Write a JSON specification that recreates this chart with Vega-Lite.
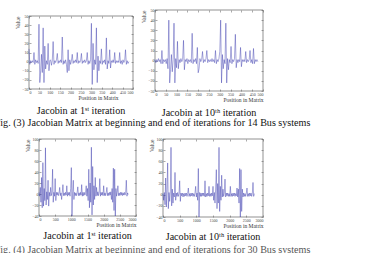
{
  "$schema": "https://vega.github.io/schema/vega-lite/v6.json",
  "background": "white",
  "autosize": {"type": "none"},
  "padding": {"left": 29, "top": 10, "right": 337, "bottom": 243},
  "datasets": {
    "s14": [
      {"p":0,"a":14,"b":1},{"p":4,"a":-3,"b":-2},{"p":8,"a":1,"b":1},{"p":12,"a":-1,"b":-1},{"p":16,"a":1,"b":2},{"p":20,"a":-1,"b":-1},{"p":24,"a":10,"b":1},{"p":28,"a":-3,"b":-3},{"p":32,"a":2,"b":10},{"p":36,"a":-1,"b":-3},
      {"p":40,"a":1,"b":1},{"p":44,"a":-2,"b":-1},{"p":48,"a":41,"b":1},{"p":52,"a":-23,"b":-3},{"p":56,"a":-10,"b":2},{"p":60,"a":8,"b":-8},{"p":64,"a":-12,"b":40},{"p":68,"a":37,"b":-22},{"p":72,"a":-23,"b":-9},{"p":76,"a":17,"b":6},
      {"p":80,"a":-8,"b":-11},{"p":84,"a":1,"b":1},{"p":88,"a":-3,"b":37},{"p":92,"a":20,"b":-22},{"p":96,"a":-10,"b":2},{"p":100,"a":1,"b":-7},{"p":104,"a":2,"b":19},{"p":108,"a":-4,"b":-8},{"p":112,"a":1,"b":1},{"p":116,"a":22,"b":-2},
      {"p":120,"a":-3,"b":2},{"p":124,"a":1,"b":-1},{"p":128,"a":-1,"b":1},{"p":132,"a":2,"b":20},{"p":136,"a":9,"b":-9},{"p":140,"a":-2,"b":1},{"p":144,"a":1,"b":-1},{"p":148,"a":-1,"b":2},{"p":152,"a":2,"b":-3},{"p":156,"a":-1,"b":1},
      {"p":160,"a":27,"b":-1},{"p":164,"a":-3,"b":1},{"p":168,"a":1,"b":-2},{"p":172,"a":-2,"b":27},{"p":176,"a":2,"b":-3},{"p":180,"a":-3,"b":1},{"p":184,"a":-12,"b":-1},{"p":188,"a":13,"b":2},{"p":192,"a":-10,"b":-3},{"p":196,"a":2,"b":13},
      {"p":200,"a":-3,"b":-12},{"p":204,"a":1,"b":-8},{"p":208,"a":8,"b":2},{"p":212,"a":-2,"b":-1},{"p":216,"a":1,"b":1},{"p":220,"a":-1,"b":9},{"p":224,"a":2,"b":-2},{"p":228,"a":-1,"b":1},{"p":232,"a":10,"b":-1},{"p":236,"a":-2,"b":2},
      {"p":240,"a":1,"b":10},{"p":244,"a":-1,"b":-2},{"p":248,"a":1,"b":1},{"p":252,"a":9,"b":-1},{"p":256,"a":-2,"b":1},{"p":260,"a":1,"b":-1},{"p":264,"a":-1,"b":2},{"p":268,"a":2,"b":-1},{"p":272,"a":-1,"b":1},{"p":276,"a":1,"b":-2},
      {"p":280,"a":10,"b":10},{"p":284,"a":-3,"b":-3},{"p":288,"a":1,"b":1},{"p":292,"a":-2,"b":-1},{"p":296,"a":2,"b":2},{"p":300,"a":42,"b":9},{"p":304,"a":-25,"b":40},{"p":308,"a":20,"b":-22},{"p":312,"a":-9,"b":6},{"p":316,"a":2,"b":-8},
      {"p":320,"a":-3,"b":1},{"p":324,"a":37,"b":-3},{"p":328,"a":-23,"b":37},{"p":332,"a":6,"b":-22},{"p":336,"a":-10,"b":2},{"p":340,"a":1,"b":-9},{"p":344,"a":-2,"b":1},{"p":348,"a":14,"b":-2},{"p":352,"a":-3,"b":14},{"p":356,"a":1,"b":-3},
      {"p":360,"a":-1,"b":1},{"p":364,"a":2,"b":-1},{"p":368,"a":-3,"b":2},{"p":372,"a":26,"b":26},{"p":376,"a":-8,"b":-7},{"p":380,"a":1,"b":1},{"p":384,"a":-2,"b":-2},{"p":388,"a":13,"b":1},{"p":392,"a":-7,"b":-1},{"p":396,"a":1,"b":13},
      {"p":400,"a":-1,"b":-6},{"p":404,"a":2,"b":1},{"p":408,"a":-1,"b":-1},{"p":412,"a":10,"b":1},{"p":416,"a":-2,"b":-1},{"p":420,"a":1,"b":9},{"p":424,"a":-1,"b":-2},{"p":428,"a":1,"b":1},{"p":432,"a":-1,"b":-1},{"p":436,"a":10,"b":1},
      {"p":440,"a":-2,"b":10},{"p":444,"a":1,"b":-2},{"p":448,"a":-3,"b":1},{"p":452,"a":2,"b":-3},{"p":456,"a":-1,"b":12},{"p":460,"a":1,"b":-3},{"p":464,"a":13,"b":1},{"p":468,"a":-3,"b":-1},{"p":472,"a":1,"b":1},{"p":476,"a":-2,"b":-1},
      {"p":480,"a":0}
    ],
    "s30": [
      {"p":0,"c":3,"d":2},{"p":20,"c":-4,"d":-10},{"p":40,"c":12,"d":4},{"p":60,"c":-15,"d":-18},{"p":80,"c":30,"d":30},{"p":100,"c":-25,"d":-22},{"p":120,"c":57,"d":10},{"p":140,"c":-22,"d":57},{"p":160,"c":10,"d":-25},{"p":180,"c":-12,"d":4},
      {"p":200,"c":84,"d":-12},{"p":220,"c":-20,"d":3},{"p":240,"c":4,"d":85},{"p":260,"c":-10,"d":-20},{"p":280,"c":25,"d":10},{"p":300,"c":-22,"d":-15},{"p":320,"c":3,"d":3},{"p":340,"c":-4,"d":-4},{"p":360,"c":12,"d":40},{"p":380,"c":-3,"d":-10},
      {"p":400,"c":2,"d":3},{"p":420,"c":45,"d":-3},{"p":440,"c":-15,"d":4},{"p":460,"c":3,"d":-3},{"p":480,"c":-4,"d":2},{"p":500,"c":28,"d":25},{"p":520,"c":-12,"d":-12},{"p":540,"c":3,"d":3},{"p":560,"c":-2,"d":-2},{"p":580,"c":3,"d":3},
      {"p":600,"c":-3,"d":-4},{"p":620,"c":2,"d":2},{"p":640,"c":12,"d":-3},{"p":660,"c":-3,"d":3},{"p":680,"c":2,"d":-2},{"p":700,"c":-10,"d":3},{"p":720,"c":3,"d":-3},{"p":740,"c":17,"d":2},{"p":760,"c":-3,"d":12},{"p":780,"c":2,"d":-3},
      {"p":800,"c":-3,"d":2},{"p":820,"c":3,"d":-3},{"p":840,"c":-2,"d":3},{"p":860,"c":15,"d":-2},{"p":880,"c":-4,"d":3},{"p":900,"c":3,"d":-3},{"p":920,"c":-2,"d":2},{"p":940,"c":3,"d":-3},{"p":960,"c":-4,"d":3},{"p":980,"c":10,"d":15},
      {"p":1000,"c":48,"d":-4},{"p":1020,"c":-40,"d":3},{"p":1040,"c":4,"d":-10},{"p":1060,"c":25,"d":47},{"p":1080,"c":-10,"d":-40},{"p":1100,"c":3,"d":4},{"p":1120,"c":-3,"d":-3},{"p":1140,"c":2,"d":3},{"p":1160,"c":-3,"d":-3},{"p":1180,"c":3,"d":3},
      {"p":1200,"c":13,"d":-2},{"p":1220,"c":-3,"d":3},{"p":1240,"c":2,"d":-3},{"p":1260,"c":-3,"d":25},{"p":1280,"c":3,"d":-4},{"p":1300,"c":-2,"d":2},{"p":1320,"c":17,"d":-3},{"p":1340,"c":-4,"d":3},{"p":1360,"c":3,"d":-2},{"p":1380,"c":-3,"d":15},
      {"p":1400,"c":3,"d":-3},{"p":1420,"c":-2,"d":2},{"p":1440,"c":2,"d":-3},{"p":1460,"c":15,"d":3},{"p":1480,"c":-4,"d":-2},{"p":1500,"c":10,"d":15},{"p":1520,"c":-12,"d":-10},{"p":1540,"c":45,"d":4},{"p":1560,"c":-25,"d":-15},{"p":1580,"c":20,"d":12},
      {"p":1600,"c":-15,"d":45},{"p":1620,"c":85,"d":-25},{"p":1640,"c":-38,"d":20},{"p":1660,"c":50,"d":-15},{"p":1680,"c":-20,"d":85},{"p":1700,"c":15,"d":-30},{"p":1720,"c":-10,"d":15},{"p":1740,"c":30,"d":-10},{"p":1760,"c":-4,"d":35},{"p":1780,"c":12,"d":-4},
      {"p":1800,"c":-3,"d":10},{"p":1820,"c":4,"d":-3},{"p":1840,"c":-3,"d":3},{"p":1860,"c":3,"d":28},{"p":1880,"c":28,"d":-4},{"p":1900,"c":-4,"d":3},{"p":1920,"c":3,"d":-2},{"p":1940,"c":-2,"d":3},{"p":1960,"c":3,"d":-3},{"p":1980,"c":-3,"d":2},
      {"p":2000,"c":15,"d":-3},{"p":2020,"c":-3,"d":15},{"p":2040,"c":2,"d":-3},{"p":2060,"c":-3,"d":2},{"p":2080,"c":3,"d":-3},{"p":2100,"c":12,"d":3},{"p":2120,"c":-3,"d":-2},{"p":2140,"c":2,"d":3},{"p":2160,"c":-3,"d":-3},{"p":2180,"c":3,"d":2},
      {"p":2200,"c":-2,"d":-2},{"p":2220,"c":4,"d":12},{"p":2240,"c":-10,"d":-4},{"p":2260,"c":10,"d":10},{"p":2280,"c":-15,"d":-15},{"p":2300,"c":47,"d":47},{"p":2320,"c":-30,"d":-40},{"p":2340,"c":45,"d":45},{"p":2360,"c":-40,"d":-30},{"p":2380,"c":10,"d":10},
      {"p":2400,"c":-4,"d":-4},{"p":2420,"c":3,"d":3},{"p":2440,"c":15,"d":-3},{"p":2460,"c":-3,"d":2},{"p":2480,"c":2,"d":-3},{"p":2500,"c":-3,"d":3},{"p":2520,"c":3,"d":12},{"p":2540,"c":-2,"d":-3},{"p":2560,"c":3,"d":2},{"p":2580,"c":-3,"d":-3},
      {"p":2600,"c":2,"d":3},{"p":2620,"c":-2,"d":-2},{"p":2640,"c":3,"d":3},{"p":2660,"c":-2,"d":-3},{"p":2680,"c":2,"d":2},{"p":2700,"c":25,"d":22},{"p":2720,"c":-4,"d":-3},{"p":2740,"c":2,"d":2},{"p":2760,"c":-1}
    ]
  },
  "spacing": 8,
  "vconcat": [
    {
      "spacing": 7,
      "title": {"text": "Fig. (3) Jacobian Matrix at beginning and end of iterations for 14 Bus systems", "orient": "bottom", "anchor": "middle", "offset": 0, "dx": 13},
      "hconcat": [
        {
          "spacing": -1,
          "vconcat": [
            {"width": 1, "height": 1, "view": {"stroke": null}, "data": {"values": [{"k": 0}]}, "mark": {"type": "point", "opacity": 0}, "encoding": {}},
            {
              "width": 104, "height": 73,
              "data": {"name": "s14"},
              "title": {"text": "Jacobin at 1ˢᵗ iteration", "orient": "bottom", "offset": 5},
              "layer": [
                {"mark": {"type": "line", "stroke": "#2e2ea8", "strokeWidth": 0.42},
                 "encoding": {
                   "x": {"field": "p", "type": "quantitative", "scale": {"domain": [0, 500], "nice": false}, "axis": {"orient": "bottom", "values": [0,50,100,150,200,250,300,350,400,450,500], "title": "Position in Matrix", "titleX": 89}},
                   "y": {"field": "a", "type": "quantitative", "scale": {"domain": [-30, 50], "nice": false}, "axis": {"orient": "left", "values": [-30,-20,-10,0,10,20,30,40,50], "title": "Value"}}
                 }},
                {"mark": {"type": "point", "opacity": 0},
                 "encoding": {
                   "x": {"field": "p", "type": "quantitative", "axis": {"orient": "top", "labels": false, "title": null, "values": [0,50,100,150,200,250,300,350,400,450,500]}},
                   "y": {"field": "a", "type": "quantitative", "axis": {"orient": "right", "labels": false, "title": null, "values": [-30,-20,-10,0,10,20,30,40,50]}}
                 }}
              ]
            }
          ]
        },
        {
          "width": 108, "height": 81,
          "data": {"name": "s14"},
          "title": {"text": "Jacobin at 10ᵗʰ iteration", "orient": "bottom", "offset": 5},
          "layer": [
            {"mark": {"type": "line", "stroke": "#2e2ea8", "strokeWidth": 0.42},
             "encoding": {
               "x": {"field": "p", "type": "quantitative", "scale": {"domain": [0, 500], "nice": false}, "axis": {"orient": "bottom", "values": [0,50,100,150,200,250,300,350,400,450,500], "title": "Position in Matrix"}},
               "y": {"field": "b", "type": "quantitative", "scale": {"domain": [-30, 50], "nice": false}, "axis": {"orient": "left", "values": [-30,-20,-10,0,10,20,30,40,50], "title": "Value"}}
             }},
            {"mark": {"type": "point", "opacity": 0},
             "encoding": {
               "x": {"field": "p", "type": "quantitative", "axis": {"orient": "top", "labels": false, "title": null, "values": [0,50,100,150,200,250,300,350,400,450,500]}},
               "y": {"field": "b", "type": "quantitative", "axis": {"orient": "right", "labels": false, "title": null, "values": [-30,-20,-10,0,10,20,30,40,50]}}
             }}
          ]
        }
      ]
    },
    {
      "spacing": -8,
      "title": {"text": "Fig. (4) Jacobian Matrix at beginning and end of iterations for 30 Bus systems", "orient": "bottom", "anchor": "middle", "offset": 3, "dx": 8, "color": "#555"},
      "hconcat": [
        {"width": 1, "height": 1, "view": {"stroke": null}, "data": {"values": [{"k": 0}]}, "mark": {"type": "point", "opacity": 0}, "encoding": {}},
        {
          "spacing": 12,
          "hconcat": [
            {
              "width": 97, "height": 77,
              "data": {"name": "s30"},
              "title": {"text": "Jacobin at 1ˢᵗ iteration", "orient": "bottom", "offset": 3},
              "layer": [
                {"mark": {"type": "line", "stroke": "#2e2ea8", "strokeWidth": 0.42},
                 "encoding": {
                   "x": {"field": "p", "type": "quantitative", "scale": {"domain": [0, 3000], "nice": false}, "axis": {"orient": "bottom", "format": "d", "values": [0,500,1000,1500,2000,2500,3000], "title": "Position in Matrix"}},
                   "y": {"field": "c", "type": "quantitative", "scale": {"domain": [-40, 100], "nice": false}, "axis": {"orient": "left", "values": [-40,-20,0,20,40,60,80,100], "title": "Value"}}
                 }},
                {"mark": {"type": "point", "opacity": 0},
                 "encoding": {
                   "x": {"field": "p", "type": "quantitative", "axis": {"orient": "top", "labels": false, "title": null, "values": [0,500,1000,1500,2000,2500,3000]}},
                   "y": {"field": "c", "type": "quantitative", "axis": {"orient": "right", "labels": false, "title": null, "values": [-40,-20,0,20,40,60,80,100]}}
                 }}
              ]
            },
            {
              "width": 100, "height": 78,
              "data": {"name": "s30"},
              "title": {"text": "Jacobin at 10ᵗʰ iteration", "orient": "bottom", "offset": 3},
              "layer": [
                {"mark": {"type": "line", "stroke": "#2e2ea8", "strokeWidth": 0.42},
                 "encoding": {
                   "x": {"field": "p", "type": "quantitative", "scale": {"domain": [0, 3000], "nice": false}, "axis": {"orient": "bottom", "format": "d", "values": [0,500,1000,1500,2000,2500,3000], "title": "Position in Matrix"}},
                   "y": {"field": "d", "type": "quantitative", "scale": {"domain": [-40, 100], "nice": false}, "axis": {"orient": "left", "values": [-40,-20,0,20,40,60,80,100], "title": "Value"}}
                 }},
                {"mark": {"type": "point", "opacity": 0},
                 "encoding": {
                   "x": {"field": "p", "type": "quantitative", "axis": {"orient": "top", "labels": false, "title": null, "values": [0,500,1000,1500,2000,2500,3000]}},
                   "y": {"field": "d", "type": "quantitative", "axis": {"orient": "right", "labels": false, "title": null, "values": [-40,-20,0,20,40,60,80,100]}}
                 }}
              ]
            }
          ]
        }
      ]
    }
  ],
  "config": {
    "view": {"stroke": "#222", "strokeWidth": 0.5},
    "axis": {
      "labelFont": "Liberation Serif", "labelFontSize": 4, "labelColor": "#444",
      "titleFont": "Liberation Serif", "titleFontSize": 5.5, "titleFontWeight": "normal", "titleColor": "#333",
      "grid": false, "domain": false, "tickSize": -2, "tickColor": "#555", "tickWidth": 0.5, "labelPadding": 3, "titlePadding": 1
    },
    "axisX": {"titleAnchor": "end"},
    "axisY": {"titleAnchor": "end"},
    "title": {"font": "Liberation Serif", "fontSize": 10.1, "fontWeight": "normal", "color": "#111"}
  }
}
